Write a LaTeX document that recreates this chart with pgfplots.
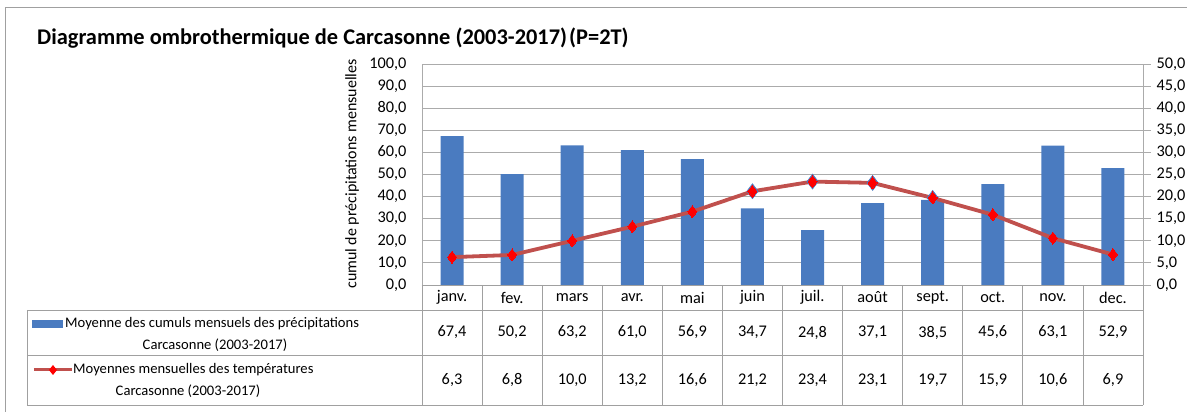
\documentclass[border=0pt]{standalone}
\usepackage{pgfplots}
\pgfplotsset{compat=1.18}
\usepackage{pgfplotstable}
\usepackage{fontspec}
\setmainfont{Carlito}
\definecolor{barblue}{HTML}{4A7BC0}
\definecolor{linered}{HTML}{C0504D}
\definecolor{gridgray}{HTML}{ABABAB}
\definecolor{framegray}{HTML}{A0A0A0}
\pgfplotstableread{
idx month precip temp
0  janv.  67.4 6.3
1  fev.   50.2 6.8
2  mars   63.2 10.0
3  avr.   61.0 13.2
4  mai    56.9 16.6
5  juin   34.7 21.2
6  juil.  24.8 23.4
7  août   37.1 23.1
8  sept.  38.5 19.7
9  oct.   45.6 15.9
10 nov.   63.1 10.6
11 dec.   52.9 6.9
}\data
\newcommand{\tf}{\fontsize{16.3}{18}\selectfont}
\newcommand{\kf}{\fontsize{16.3}{18}\selectfont}
\newcommand{\lf}{\fontsize{14.6}{16}\selectfont}
\begin{document}
\begin{tikzpicture}[x=1pt,y=1pt]
\useasboundingbox (-422,-127) rectangle (765,285);
% outer frame
\draw[framegray, line width=1pt] (-416,-140) -- (-416,277) -- (780,277);
% title
\node[anchor=base west, inner sep=0pt, font=\fontsize{22.4}{26}\selectfont\bfseries] at (-385,240) {Diagramme ombrothermique de Carcasonne (2003-2017)\kern2pt(P=2T)};
\begin{axis}[
  at={(0,0)}, anchor=south west, scale only axis,
  width=721pt, height=221pt,
  xmin=-0.5, xmax=11.5, xtick=\empty,
  ymin=0, ymax=100, ytick={0,10,...,100},
  ymajorgrids, grid style={gridgray, line width=0.8pt},
  axis x line=none,
  axis y line*=left,
  axis line style={gridgray, line width=0.8pt, -},
  major tick length=0pt,
  yticklabel style={font=\kf, xshift=-12pt},
  /pgf/number format/.cd, fixed, fixed zerofill, precision=1, use comma, assume math mode=true,
]
\addplot[ybar, bar width=23pt, fill=barblue, draw=none] table[x=idx, y=precip] {\data};
\end{axis}
\begin{axis}[
  at={(0,0)}, anchor=south west, scale only axis,
  width=721pt, height=221pt,
  xmin=-0.5, xmax=11.5, xtick=\empty,
  ymin=0, ymax=50, ytick={0,5,...,50},
  axis x line=none,
  axis y line*=right,
  axis line style={gridgray, line width=0.8pt, -},
  tick align=outside, major tick length=8pt,
  tick style={gridgray, line width=0.8pt},
  yticklabel style={font=\kf, xshift=2pt},
  clip=false,
  /pgf/number format/.cd, fixed, fixed zerofill, precision=1, use comma, assume math mode=true,
]
\addplot[only marks, mark=diamond*, mark size=7.6pt, mark options={draw=barblue, fill=barblue}, restrict x to domain=5:8] table[x=idx, y=temp] {\data};
\addplot[linered, line width=3.8pt, mark=diamond*, mark size=6pt, mark options={draw=red, fill=red, line width=0pt}] table[x=idx, y=temp] {\data};
\end{axis}
% rotated y label
\node[rotate=90, font=\fontsize{16}{18}\selectfont] at (-70,111) {cumul de précipitations mensuelles};
% data table
\begin{scope}[framegray, line width=0.8pt]
\draw (0,0) -- (721,0);
\draw (-395,-25) -- (721,-25);
\draw (-395,-70) -- (721,-70);
\draw (-395,-120) -- (721,-120);
\draw (-395,-25) -- (-395,-120);
\foreach \k in {0,...,12} {\draw ({60.0833*\k},0) -- ({60.0833*\k},-120);}
\end{scope}
\foreach \i in {0,...,11} {
  \pgfplotstablegetelem{\i}{month}\of\data \let\mon\pgfplotsretval
  \pgfplotstablegetelem{\i}{precip}\of\data \let\pr\pgfplotsretval
  \pgfplotstablegetelem{\i}{temp}\of\data \let\te\pgfplotsretval
  \node[font=\tf] at ({60.0833*(\i+0.5)},-12.5) {\mon};
  \node[font=\kf] at ({60.0833*(\i+0.5)},-47.5) {\pgfmathprintnumber[fixed,fixed zerofill,precision=1,use comma,assume math mode=true]{\pr}};
  \node[font=\kf] at ({60.0833*(\i+0.5)},-95) {\pgfmathprintnumber[fixed,fixed zerofill,precision=1,use comma,assume math mode=true]{\te}};
}
% legend keys and texts
\fill[barblue] (-390,-35) rectangle (-359,-43);
\node[anchor=west, inner sep=0pt, font=\lf] at (-357,-39) {Moyenne des cumuls mensuels des précipitations};
\node[font=\lf] at (-207,-60) {Carcasonne (2003-2017)};
\draw[linered, line width=3pt] (-388,-85) -- (-350,-85);
\fill[red] (-369,-80) -- (-365,-85) -- (-369,-90) -- (-373,-85) -- cycle;
\node[anchor=west, inner sep=0pt, font=\lf] at (-349,-85) {Moyennes mensuelles des températures};
\node[font=\lf] at (-234,-106) {Carcasonne (2003-2017)};
\end{tikzpicture}
\end{document}
